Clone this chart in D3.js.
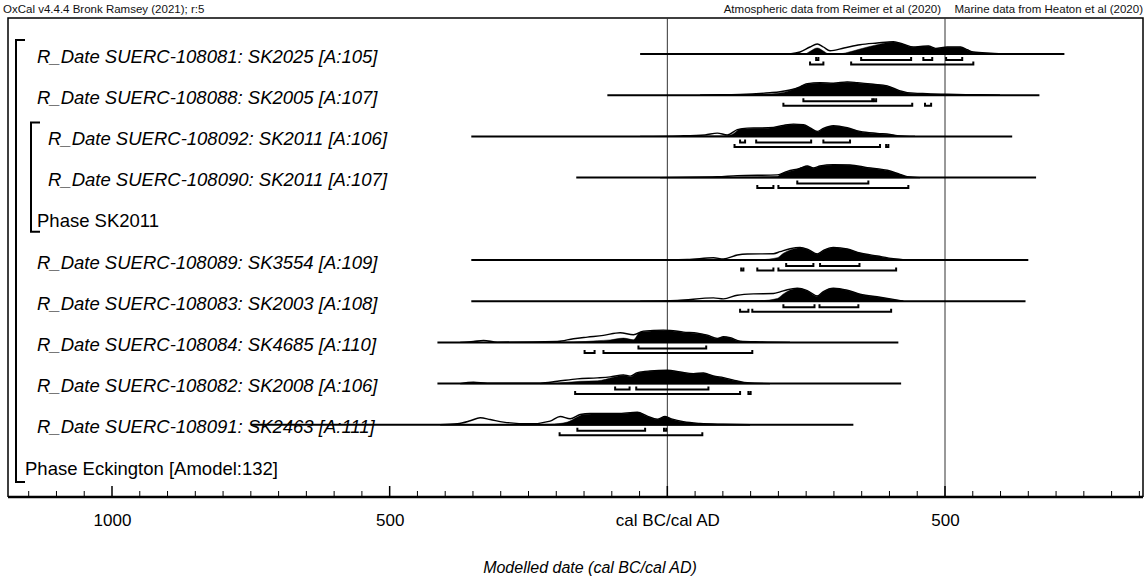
<!DOCTYPE html>
<meta charset="utf-8">
<style>
  body { margin: 0; background: #fff; }
  text { font-family: "Liberation Sans", Arial, sans-serif; }
</style>
<svg width="1146" height="587"></svg>
<script src="https://d3js.org/d3.v7.min.js"></script>
<script>

// ---- data (years: negative = cal BC, positive = cal AD) ----
var labels = [
  "R_Date SUERC-108081: SK2025 [A:105]",
  "R_Date SUERC-108088: SK2005 [A:107]",
  "R_Date SUERC-108092: SK2011 [A:106]",
  "R_Date SUERC-108090: SK2011 [A:107]",
  "Phase SK2011",
  "R_Date SUERC-108089: SK3554 [A:109]",
  "R_Date SUERC-108083: SK2003 [A:108]",
  "R_Date SUERC-108084: SK4685 [A:110]",
  "R_Date SUERC-108082: SK2008 [A:106]",
  "R_Date SUERC-108091: SK2463 [A:111]",
  "Phase Eckington [Amodel:132]"
]
var kinds = ["date", "date", "date", "date", "phase", "date", "date", "date", "date", "date", "phase"]

// extent of the baseline for each date
var spans = [[-49, 715], [-108, 670], [-353, 621], [-164, 664], null,
  [-353, 650], [-353, 645], [-414, 416], [-414, 421], [-750, 335], null]

// unmodelled likelihoods [year, relative prob]
var likelihoods = [
  [[220,0],[239,2],[257,7],[270,10],[281,7],[293,3.3],[318,6],[347,9.3],[378,11],[407,12.3],[425,9.8],[443,7],[456,7.5],[470,8],[483,5.6],[504,7],[528,7],[540,4.3],[551,2],[582,0.8],[618,0]],
  [[59,0],[95,0.4],[131,0.7],[185,2.5],[203,3.5],[221,5.2],[239,8.3],[252,11.6],[275,12.6],[299,12],[324,13.3],[342,12.6],[371,11],[396,9.3],[419,4.3],[432,2.6],[468,1.5],[504,0.9],[563,0.4],[599,0]],
  [[-49,0],[23,0.5],[68,1.5],[90,3.3],[108,1.5],[126,6.7],[144,8.3],[167,8.4],[191,9],[209,11],[227,12.3],[245,11.6],[257,8.6],[270,5],[281,8],[299,10.6],[324,8.6],[347,5],[378,3],[401,2],[414,0.8],[446,0]],
  [[-13,0],[90,0.8],[126,2],[198,2.7],[216,6.3],[239,9.3],[252,11.6],[263,9.6],[275,11.6],[299,13],[329,12.6],[360,10],[396,7.3],[419,3.3],[432,1],[455,0]],
  null,
  [[-49,0],[36,0.5],[83,2.3],[101,1],[126,5],[144,6],[191,6.3],[203,8.3],[221,11.3],[239,12.6],[254,10.3],[270,6],[281,9.6],[299,12.6],[324,11],[347,7],[378,4],[407,1.3],[432,0]],
  [[-49,0],[18,0.7],[83,3.3],[101,2.3],[126,6],[155,7.3],[191,7.7],[203,9.3],[216,11.5],[234,13],[252,10.6],[270,5.3],[281,9.6],[299,13],[324,11],[347,7],[383,4],[407,1.8],[425,0]],
  [[-373,0],[-349,1],[-331,2],[-306,0.3],[-198,1],[-169,3.7],[-144,5.3],[-115,7],[-85,9.7],[-61,7.7],[-43,11.3],[-7,12.3],[5,12],[29,10.3],[54,9.3],[72,7.3],[90,4],[101,5.6],[113,4.8],[131,1.3],[167,0.5],[221,0]],
  [[-373,0],[-349,1.3],[-324,0.3],[-229,0.5],[-198,2.3],[-162,4.7],[-126,5.7],[-103,6.7],[-79,8.7],[-67,7.5],[-54,11],[-31,12.6],[0,13.3],[23,11.6],[47,10],[65,10.6],[83,7.6],[101,6],[126,2.6],[144,0.8],[185,0]],
  [[-409,0],[-378,1],[-355,4],[-337,7],[-319,5.3],[-295,2.7],[-247,1],[-211,3.7],[-193,8.3],[-175,6],[-157,10.3],[-139,11.3],[-121,11.3],[-90,11.3],[-54,12.6],[-36,8.6],[-18,5.6],[-4,8.3],[9,5.6],[29,3],[59,1.3],[101,0.5],[149,0]],
  null
]

// modelled posteriors [year, relative prob]
var posteriors = [
  [[249,0],[258,3],[270,6],[281,3],[290,0.3],[312,0.3],[324,1.5],[347,5],[378,9.3],[407,12],[425,9.5],[443,6.7],[456,7.2],[470,7.7],[483,5.3],[504,6.7],[528,6.7],[540,4],[551,1.7],[582,0.5],[618,0]],
  [[59,0],[95,0.3],[167,0.8],[203,2.3],[234,7.3],[252,11.3],[275,12.3],[299,11.7],[324,13],[342,12.3],[371,10.7],[396,9],[419,4],[432,2.3],[468,1.3],[504,0.7],[563,0.3],[599,0]],
  [[41,0],[104,0.3],[119,2.7],[131,7.3],[167,8],[191,8.7],[209,10.7],[227,12],[245,11.3],[257,8.3],[270,4.7],[281,7.7],[299,10.3],[324,8.3],[347,4.7],[378,2.7],[401,1.7],[414,0.5],[446,0]],
  [[41,0],[126,0.5],[198,1],[203,3],[227,7],[252,11.3],[263,9.3],[275,11.3],[299,12.7],[329,12.3],[360,9.7],[396,7],[419,3],[432,0.8],[455,0]],
  null,
  [[41,0],[167,0.3],[198,2.3],[209,6.7],[227,11],[239,12.3],[254,10],[270,5.7],[281,9.3],[299,12.3],[324,10.7],[347,6.7],[378,3.7],[407,1],[432,0]],
  [[41,0],[167,0.5],[198,2.7],[209,7.3],[234,12.7],[252,10.3],[270,5],[281,9.3],[299,12.7],[324,10.7],[347,6.7],[383,3.7],[407,1.5],[425,0]],
  [[-229,0],[-169,0.3],[-126,1.7],[-103,2.5],[-79,4.3],[-61,2.7],[-49,10.3],[-7,12],[5,11.7],[29,10],[54,9],[72,7],[90,3.7],[101,5.3],[113,4.5],[131,1],[167,0.3],[221,0]],
  [[-229,0],[-198,0.5],[-157,2.3],[-126,2.8],[-97,6.3],[-79,8.3],[-67,6.7],[-54,10.7],[-31,12.3],[0,13],[23,11.3],[47,9.7],[65,10.3],[83,7.3],[101,5.7],[126,2.3],[144,0.5],[185,0]],
  [[-265,0],[-211,0.5],[-180,2.7],[-162,7.7],[-151,10.3],[-121,11],[-90,11],[-54,12.3],[-36,8.3],[-18,5.3],[-4,8],[9,5.3],[29,2.7],[59,1],[101,0.3],[149,0]],
  null
]

// highest posterior density ranges
var ranges68 = [
  [[268,272],[349,439],[461,477],[502,531]],
  [[245,369],[372,376]],
  [[131,140],[160,259],[281,329]],
  [[234,362]],
  null,
  [[214,263],[275,346]],
  [[209,265],[274,344]],
  [[-52,70]],
  [[-94,-68],[-56,74]],
  [[-162,-40],[-6,-2]],
  null
]
var ranges95 = [
  [[257,281],[331,551]],
  [[209,441],[464,475]],
  [[121,383],[394,398]],
  [[162,191],[200,434]],
  null,
  [[133,137],[162,191],[200,412]],
  [[131,146],[153,403]],
  [[-149,-131],[-115,153]],
  [[-166,131],[146,150]],
  [[-194,63]],
  null
]

var majorTicks = [-1000, -500, 0, 500]
var tickNames = {"-1000": "1000", "-500": "500", "0": "cal BC/cal AD", "500": "500"}
var refLines = [0, 500]

// ---- layout ----
var frame = { left: 8, right: 1143, top: 18, bottom: 497 }
var rowY0 = 54, rowStep = 41.2
var labelX = [37, 37, 48, 48, 37, 37, 37, 37, 37, 37, 25]

var svg = d3.select('svg')
var x = d3.scaleLinear().domain([-1000, 500]).range([112, 945])
var h = d3.scaleLinear().domain([0, 13]).range([0, 13])
function rowY(i) { return rowY0 + i * rowStep }

// header texts
svg.append('text').attr('x', 3).attr('y', 13).attr('font-size', 11.5).attr('fill', '#111')
  .text('OxCal v4.4.4 Bronk Ramsey (2021); r:5')
svg.append('text').attr('x', 941).attr('y', 13).attr('font-size', 11.5).attr('fill', '#111')
  .attr('text-anchor', 'end').text('Atmospheric data from Reimer et al (2020)')
svg.append('text').attr('x', 1143).attr('y', 13).attr('font-size', 11.5).attr('fill', '#111')
  .attr('text-anchor', 'end').text('Marine data from Heaton et al (2020)')

// frame
svg.append('path')
  .attr('d', 'M' + frame.left + ',' + frame.bottom + 'V' + frame.top + 'H' + frame.right + 'V' + frame.bottom)
  .attr('fill', 'none').attr('stroke', '#000').attr('stroke-width', 1.5)

// reference lines
svg.append('g').selectAll('line').data(refLines).enter().append('line')
  .attr('x1', function (d) { return x(d) }).attr('x2', function (d) { return x(d) })
  .attr('y1', frame.top).attr('y2', frame.bottom)
  .attr('stroke', '#333').attr('stroke-width', 1)

// axis ticks (upwards, inside the frame)
var minorTicks = d3.range(-1150, 851, 50).filter(function (d) { return majorTicks.indexOf(d) < 0 })
var tickG = svg.append('g')
tickG.selectAll('line.minor').data(minorTicks).enter().append('line')
  .attr('class', 'minor')
  .attr('x1', function (d) { return x(d) }).attr('x2', function (d) { return x(d) })
  .attr('y1', frame.bottom - 6).attr('y2', frame.bottom)
  .attr('stroke', '#000').attr('stroke-width', 1)
tickG.selectAll('line.major').data(majorTicks).enter().append('line')
  .attr('class', 'major')
  .attr('x1', function (d) { return x(d) }).attr('x2', function (d) { return x(d) })
  .attr('y1', frame.bottom - 11).attr('y2', frame.bottom)
  .attr('stroke', '#000').attr('stroke-width', 1.5)

svg.append('g').attr('transform', 'translate(0,' + frame.bottom + ')')
  .call(d3.axisBottom(x).tickValues(majorTicks).tickSize(0).tickPadding(17)
    .tickFormat(function (d) { return tickNames[d] }))
  .call(function (g) {
    g.select('.domain').remove()
    g.selectAll('text').attr('font-size', 17).attr('font-family', '"Liberation Sans", Arial, sans-serif').attr('fill', '#000')
  })
svg.append('line').attr('x1', frame.left).attr('x2', frame.right)
  .attr('y1', frame.bottom).attr('y2', frame.bottom)
  .attr('stroke', '#000').attr('stroke-width', 2.5)

svg.append('text').attr('x', 590).attr('y', 573).attr('font-size', 16)
  .attr('font-style', 'italic').attr('text-anchor', 'middle')
  .text('Modelled date (cal BC/cal AD)')

// brackets for phases
function bracket(bx, y1, y2) {
  svg.append('path')
    .attr('d', 'M' + (bx + 9) + ',' + y1 + 'H' + bx + 'V' + y2 + 'H' + (bx + 9))
    .attr('fill', 'none').attr('stroke', '#000').attr('stroke-width', 2)
}
bracket(16, rowY(0) - 14, rowY(10) + 16)
bracket(31, rowY(2) - 14, rowY(4) + 13)

// labels
svg.append('g').selectAll('text').data(labels).enter().append('text')
  .attr('x', function (d, i) { return labelX[i] })
  .attr('y', function (d, i) { return rowY(i) + 8.5 })
  .attr('font-size', 18.5)
  .attr('font-style', function (d, i) { return kinds[i] === 'date' ? 'italic' : 'normal' })
  .attr('fill', '#000')
  .text(function (d) { return d })

// distributions
labels.forEach(function (lab, i) {
  if (kinds[i] !== 'date') return
  var base = rowY(i)
  var g = svg.append('g')
  var area = d3.area()
    .x(function (d) { return x(d[0]) })
    .y0(base)
    .y1(function (d) { return base - h(d[1]) })
    .curve(d3.curveMonotoneX)

  g.append('path').datum(likelihoods[i]).attr('d', area)
    .attr('fill', '#fff').attr('stroke', '#000').attr('stroke-width', 1.4)
  g.append('path').datum(posteriors[i]).attr('d', area)
    .attr('fill', '#000').attr('stroke', '#000').attr('stroke-width', 0.5)

  g.append('line')
    .attr('x1', x(spans[i][0])).attr('x2', x(spans[i][1]))
    .attr('y1', base).attr('y2', base)
    .attr('stroke', '#000').attr('stroke-width', 2)

  function drawRanges(list, dy) {
    g.selectAll(null).data(list).enter().append('path')
      .attr('d', function (r) {
        var y = base + dy
        return 'M' + x(r[0]) + ',' + (y - 3) + 'V' + y + 'H' + x(r[1]) + 'V' + (y - 3)
      })
      .attr('fill', 'none').attr('stroke', '#000').attr('stroke-width', 2)
  }
  drawRanges(ranges68[i], 6)
  drawRanges(ranges95[i], 10.5)
})
</script>
